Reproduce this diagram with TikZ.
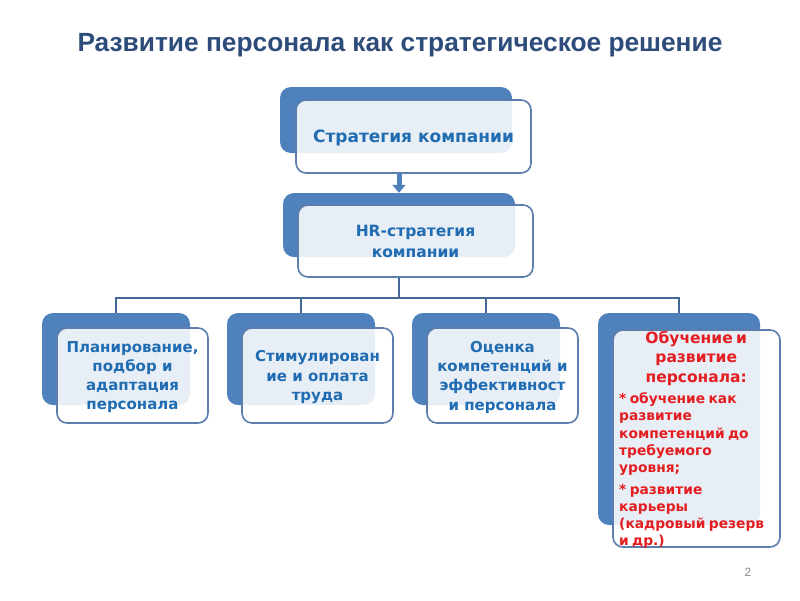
\documentclass[tikz,border=0pt]{standalone}
\usepackage{fontspec}
\setmainfont{DejaVu Sans}
\newfontfamily\titlefont{Liberation Sans}
\usetikzlibrary{arrows.meta}
\definecolor{backblue}{RGB}{79,129,189}
\definecolor{edgeblue}{RGB}{92,126,172}
\definecolor{textblue}{RGB}{31,108,178}
\definecolor{titleblue}{RGB}{46,76,122}
\definecolor{lineblue}{RGB}{70,104,150}
\definecolor{redtext}{RGB}{228,30,32}
\tikzset{
  backbox/.style={fill=backblue, rounded corners=11pt, inner sep=0pt},
  frontbox/.style={draw=edgeblue, line width=1.6pt, fill=white, fill opacity=0.87,
    text opacity=1, rounded corners=10pt, align=center, inner sep=2pt, text=textblue,
    text depth=0pt, font=\bfseries\fontsize{15}{19.3}\selectfont},
  conn/.style={draw=lineblue, line width=1.4pt},
  blockarr/.style={draw=backblue, line width=5pt, -{Triangle[width=13pt,length=8pt]}}
}
\begin{document}
\begin{tikzpicture}[x=1pt,y=-1pt]
\useasboundingbox (0,0) rectangle (800,600);
% title
\node[font=\titlefont\bfseries\fontsize{26.3}{30}\selectfont, text=titleblue] (title) at (400,45)
  {Развитие персонала как стратегическое решение};
% company strategy
\node[backbox, minimum width=232, minimum height=66] (sb) at (396,120) {};
\node[frontbox, minimum width=235, minimum height=73, font=\bfseries\fontsize{17}{20}\selectfont] (sf) at (413.5,136.5)
  {Стратегия компании};
% hr strategy
\node[backbox, minimum width=232, minimum height=64] (hb) at (399,225) {};
\node[frontbox, minimum width=235, minimum height=72, font=\bfseries\fontsize{15.5}{21}\selectfont] (hf) at (415.5,241)
  {HR-стратегия\\компании};
\draw[blockarr] (sf.south -| hb.north) -- (hb.north);
% lower boxes
\node[backbox, minimum width=148, minimum height=92] (b1) at (116,359) {};
\node[frontbox, minimum width=151, minimum height=95] (f1) at (132.5,375.5)
  {Планирование,\\подбор и\\адаптация\\персонала};
\node[backbox, minimum width=148, minimum height=92] (b2) at (301,359) {};
\node[frontbox, minimum width=151, minimum height=95] (f2) at (317.5,375.5)
  {Стимулирован\\ие и оплата\\труда};
\node[backbox, minimum width=148, minimum height=92] (b3) at (486,359) {};
\node[frontbox, minimum width=151, minimum height=95] (f3) at (502.5,375.5)
  {Оценка\\компетенций и\\эффективност\\и персонала};
\node[backbox, minimum width=162, minimum height=212] (b4) at (679,419) {};
\node[frontbox, minimum width=167, minimum height=217] (f4) at (696.5,438.5) {};
\node[anchor=north west, text width=154pt, inner sep=0pt, text=redtext, font=\bfseries] (t4) at (619,331)
  {{\centering\fontsize{15.5}{19.5}\selectfont Обучение и\\развитие\\персонала:\par}
   \fontsize{13.8}{17.2}\selectfont\vspace{4pt}
   * обучение как\\развитие\\компетенций до\\требуемого\\уровня;\par\vspace{4.5pt}
   * развитие\\карьеры\\(кадровый резерв\\и др.)\par};
% tree
\draw[conn] (b1.north) -- ++(0,-15) coordinate (bus) -| (b4.north);
\draw[conn] (b2.north) -- ++(0,-15);
\draw[conn] (b3.north) -- ++(0,-15);
\draw[conn] (hb.north |- hf.south) -- (hb.north |- bus);
% page number
\node[font=\titlefont\fontsize{12}{14}\selectfont, text=black!45] (pg) at (748,572) {2};
\end{tikzpicture}
\end{document}
